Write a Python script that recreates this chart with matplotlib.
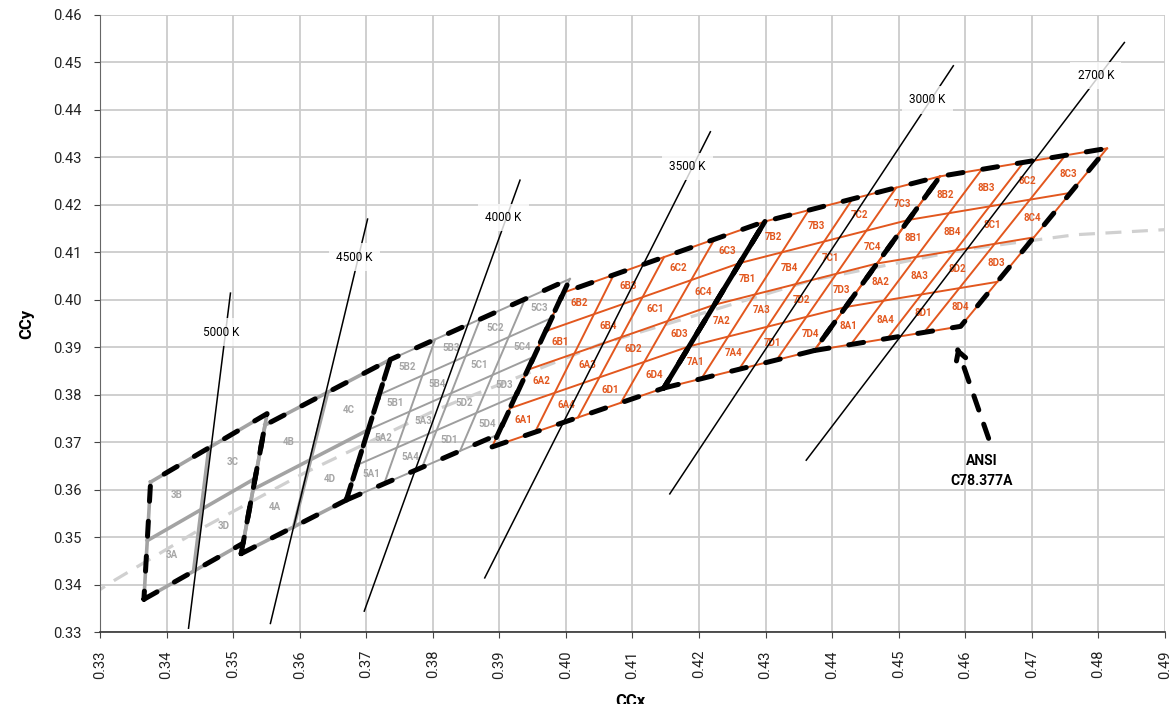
import matplotlib
matplotlib.use('Agg')
import matplotlib.pyplot as plt
import numpy as np

plt.rcParams['font.family'] = ['Roboto', 'DejaVu Sans']

# ANSI C78.377A quadrangles, corners: bottom-left, bottom-right, top-right, top-left
quad_5000 = [(0.3366, 0.3369), (0.3515, 0.3487), (0.3551, 0.3760), (0.3376, 0.3616)]
quad_4500 = [(0.3512, 0.3465), (0.3670, 0.3578), (0.3736, 0.3874), (0.3548, 0.3736)]
quad_4000 = [(0.3670, 0.3578), (0.3898, 0.3716), (0.4006, 0.4044), (0.3736, 0.3874)]
quad_3500 = [(0.3889, 0.3690), (0.4147, 0.3814), (0.4299, 0.4165), (0.3996, 0.4015)]
quad_3000 = [(0.4147, 0.3814), (0.4373, 0.3893), (0.4562, 0.4260), (0.4299, 0.4165)]
quad_2700 = [(0.4373, 0.3893), (0.4593, 0.3944), (0.4813, 0.4319), (0.4562, 0.4260)]

quads = [quad_5000, quad_4500, quad_4000, quad_3500, quad_3000, quad_2700]
bin_prefix = ['3', '4', '5', '6', '7', '8']
bin_divs = [2, 2, 4, 4, 4, 4]

# black body locus (CIE 1931 x, y)
locus_x = [0.3220, 0.3323, 0.3450, 0.3607, 0.3805, 0.4053, 0.4369, 0.4599, 0.4765, 0.4953]
locus_y = [0.3318, 0.3410, 0.3516, 0.3635, 0.3768, 0.3907, 0.4041, 0.4106, 0.4137, 0.4152]

# isotherm lines
cct_names = ['5000 K', '4500 K', '4000 K', '3500 K', '3000 K', '2700 K']
cct_x0 = [0.3433, 0.3556, 0.3697, 0.3878, 0.4156, 0.4361]
cct_y0 = [0.3308, 0.3318, 0.3344, 0.3414, 0.3591, 0.3662]
cct_x1 = [0.3496, 0.3702, 0.3931, 0.4217, 0.4582, 0.4839]
cct_y1 = [0.4014, 0.4170, 0.4252, 0.4354, 0.4493, 0.4542]
cct_lx = [0.3482, 0.3682, 0.3906, 0.4183, 0.4543, 0.4796]
cct_ly = [0.3932, 0.4090, 0.4174, 0.4280, 0.4421, 0.4472]

GREY = '#a3a3a3'
ORANGE = '#e2571e'


def bilin(q, u, v):
    bl, br, tr, tl = [np.array(p) for p in q]
    return (1 - u) * (1 - v) * bl + u * (1 - v) * br + u * v * tr + (1 - u) * v * tl


fig = plt.figure(figsize=(11.7, 7.04), dpi=100)
ax = fig.add_axes([100 / 1170, 1 - 632 / 704, 1065 / 1170, 617 / 704])

ax.plot(locus_x, locus_y, color='#d0d0d0', lw=2.3, ls=(0, (5, 3.3)), zorder=2)

quad_names = {(0, 0): 'A', (0, 1): 'B', (1, 1): 'C', (1, 0): 'D'}
sub_names = {(0, 0): '1', (0, 1): '2', (1, 1): '3', (1, 0): '4'}

for q, pre, n in zip(quads, bin_prefix, bin_divs):
    if pre in '34':
        col, lw = GREY, 2.6
    elif pre == '5':
        col, lw = '#9e9e9e', 1.4
    else:
        col, lw = ORANGE, 1.4
    for k in range(n + 1):
        t = k / n
        a, b = bilin(q, t, 0), bilin(q, t, 1)
        ax.plot([a[0], b[0]], [a[1], b[1]], color=col, lw=lw, zorder=3)
        a, b = bilin(q, 0, t), bilin(q, 1, t)
        ax.plot([a[0], b[0]], [a[1], b[1]], color=col, lw=lw, zorder=3)
    tcol = '#a6a6a6' if pre in '345' else ORANGE
    for i in range(n):
        for j in range(n):
            c = bilin(q, (i + 0.5) / n, (j + 0.5) / n)
            if n == 2:
                name = pre + quad_names[(i, j)]
            else:
                name = pre + quad_names[(i // 2, j // 2)] + sub_names[(i % 2, j % 2)]
            ax.text(c[0], c[1], name, color=tcol, fontsize=7, fontweight='bold',
                    ha='center', va='center', zorder=4)

for x0, y0, x1, y1 in zip(cct_x0, cct_y0, cct_x1, cct_y1):
    ax.plot([x0, x1], [y0, y1], color='black', lw=1.1, zorder=5)
for name, lx, ly in zip(cct_names, cct_lx, cct_ly):
    ax.text(lx, ly, name, fontsize=8.5, ha='center', va='center', zorder=6,
            bbox=dict(boxstyle='square,pad=0.6', fc='white', ec='none', alpha=0.8))

# ANSI outlines
for q in quads:
    xs = [p[0] for p in q] + [q[0][0]]
    ys = [p[1] for p in q] + [q[0][1]]
    ax.plot(xs, ys, color='black', lw=3.6, ls=(0, (3, 4)), dash_capstyle='round', zorder=7)
ax.plot([quad_3000[0][0], quad_3000[3][0]], [quad_3000[0][1], quad_3000[3][1]],
        color='black', lw=3.6, solid_capstyle='round', zorder=7)

# ANSI callout
tip = (0.4587, 0.3901)
tail = (0.4635, 0.3708)
ax.plot([tail[0], 0.4592], [tail[1], 0.3882], color='black', lw=3.6,
        ls=(0, (3, 3)), dash_capstyle='round', zorder=7)
ax.annotate('', xy=tip, xytext=(0.4589, 0.3893),
            arrowprops=dict(arrowstyle='->,head_length=0.6,head_width=0.35', lw=3.6,
                            color='black', shrinkA=0, shrinkB=0), zorder=7)
ax.text(0.4625, 0.3639, 'ANSI\nC78.377A', fontsize=10, fontweight='bold',
        ha='center', va='center', linespacing=1.6)

ax.set_xlim(0.33, 0.49)
ax.set_ylim(0.33, 0.46)
xt = np.arange(33, 50) / 100
yt = np.arange(33, 47) / 100
ax.set_xticks(xt)
ax.set_yticks(yt)
ax.set_xticklabels([f'{v:.2f}' for v in xt], rotation=90)
ax.set_yticklabels([f'{v:.2f}' for v in yt])
ax.tick_params(axis='both', labelsize=10.5, length=4, pad=9, color='#444444', labelcolor='#222222')
ax.grid(True, color='#cccccc', lw=1.3, zorder=0)
ax.set_axisbelow(True)
for s in ['top', 'right']:
    ax.spines[s].set_visible(False)
ax.spines['left'].set_color('#666666')
ax.spines['bottom'].set_color('#333333')
ax.spines['bottom'].set_linewidth(1.2)

ax.set_ylabel('CCy', fontsize=12, fontweight='bold', labelpad=14)
fig.text(630 / 1170, 1 - 694 / 704, 'CCx', fontsize=12, fontweight='bold',
         ha='center', va='top')

fig.savefig('out.png', dpi=100)
